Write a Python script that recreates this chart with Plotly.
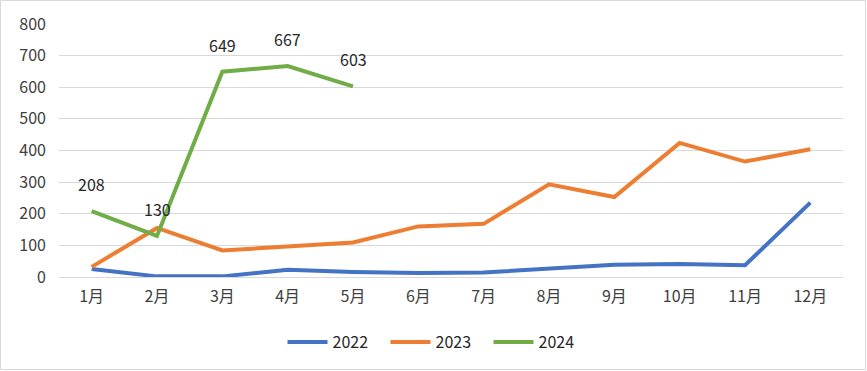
import plotly.graph_objects as go

months = ["1月", "2月", "3月", "4月", "5月", "6月", "7月", "8月", "9月", "10月", "11月", "12月"]
s2022 = [25, 2, 2, 23, 16, 13, 14, 28, 39, 41, 37, 235]
s2023 = [32, 155, 84, 95, 109, 160, 168, 293, 253, 424, 365, 404]
s2024 = [208, 130, 649, 667, 603]
series_names = ["2022", "2023", "2024"]
colors = ["#4472C4", "#ED7D31", "#70AD47"]
yticks = [0, 100, 200, 300, 400, 500, 600, 700, 800]

FONT = "Noto Sans CJK SC"
W, H = 867, 371
L, R, T, B = 59, 24, 24, 94

fig = go.Figure()
for name, vals, c in zip(series_names, [s2022, s2023, s2024], colors):
    fig.add_trace(go.Scatter(
        x=months[:len(vals)], y=vals, name=name, mode="lines",
        line=dict(color=c, width=4, shape="linear"),
    ))

for m, v in zip(months, s2024):
    fig.add_annotation(x=m, y=v, text=str(v), showarrow=False, yshift=27,
                       font=dict(family=FONT, size=16, color="#262626"))

pw = W - L - R
ph = H - T - B
fig.add_shape(type="rect", xref="paper", yref="paper",
              x0=-(L - 0.5) / pw, x1=1 + (R - 1.5) / pw,
              y0=-(B - 1.5) / ph, y1=1 + (T - 0.5) / ph,
              line=dict(color="#d9d9d9", width=1), layer="below")

fig.update_layout(
    width=W, height=H,
    margin=dict(l=L, r=R, t=T, b=B),
    paper_bgcolor="white", plot_bgcolor="white",
    font=dict(family=FONT, size=16, color="#404040"),
    showlegend=True,
    legend=dict(orientation="h", x=(437 - L) / pw, xanchor="center", y=(277 - 342) / ph, yanchor="middle",
                font=dict(family=FONT, size=16, color="#262626"), itemwidth=40,
                entrywidth=48, entrywidthmode="pixels",
                traceorder="normal"),
    xaxis=dict(type="category", categoryorder="array", categoryarray=months,
               range=[-0.5, 11.5], showgrid=False, showline=False, zeroline=False,
               ticks="", ticklabelstandoff=8, tickfont=dict(family=FONT, size=16, color="#404040")),
    yaxis=dict(range=[0, 800], tickvals=yticks, showgrid=True, gridcolor="#d9d9d9", gridwidth=1,
               zeroline=True, zerolinecolor="#d9d9d9", zerolinewidth=1, showline=False,
               ticks="", ticklabelstandoff=12, tickfont=dict(family=FONT, size=16, color="#404040")),
)

fig.write_html("out.html", config={"displayModeBar": False},
               post_script="document.body.style.margin='0';document.body.style.overflow='hidden';")
